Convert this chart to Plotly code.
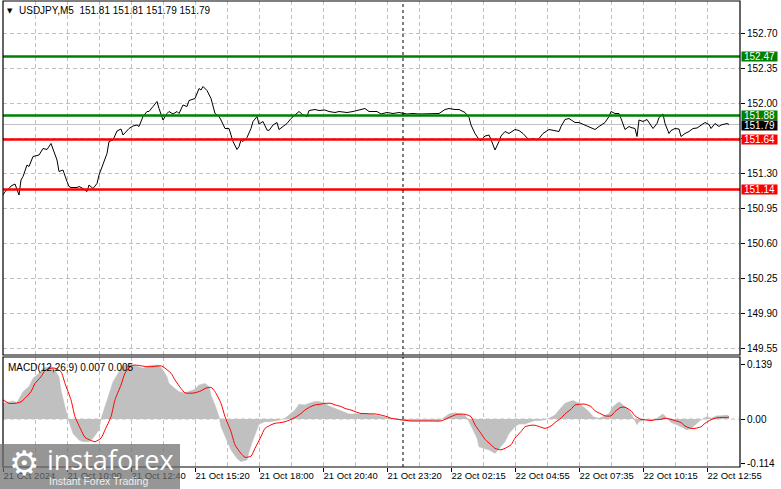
import plotly.graph_objects as go

# ---------------- data (bar index: 5-minute bars, 0 = 21 Oct 07:20) ----------------
price_bar = [0, 1, 3, 4, 6, 8, 9, 10, 12, 13, 15, 18, 20, 22, 24, 25, 27, 28, 30, 32,
             33, 34, 37, 38, 40, 42, 43, 45, 47, 48, 50, 52, 53, 55, 57, 59, 60, 63, 65, 67,
             68, 70, 72, 73, 75, 77, 78, 80, 82, 83, 85, 87, 88, 90, 92, 93, 96, 98, 99, 100,
             102, 104, 106, 108, 109, 111, 113, 114, 115, 117, 118, 119, 120, 122, 124, 125, 127, 128, 130, 132,
             133, 135, 137, 138, 140, 142, 144, 147, 148, 150, 152, 153, 156, 158, 161, 163, 166, 168, 172, 175,
             178, 181, 183, 187, 189, 192, 195, 198, 202, 205, 208, 212, 215, 218, 221, 223, 226, 228, 231, 233,
             234, 236, 238, 239, 241, 243, 244, 246, 248, 249, 251, 253, 256, 258, 260, 262, 263, 265, 267, 268,
             270, 273, 275, 278, 279, 281, 283, 286, 288, 291, 293, 296, 298, 301, 303, 304, 306, 308, 309, 311,
             313, 314, 316, 317, 318, 320, 322, 323, 325, 327, 328, 330, 331, 333, 334, 336, 338, 339, 341, 343,
             345, 347, 348, 351, 353, 354, 356, 358, 359, 362, 363]
price_close = [151.085, 151.12, 151.15, 151.175, 151.195, 151.085, 151.235, 151.27, 151.385, 151.37,
               151.47, 151.485, 151.55, 151.54, 151.60, 151.55, 151.435, 151.32, 151.335, 151.22,
               151.17, 151.16, 151.16, 151.17, 151.15, 151.12, 151.185, 151.15, 151.20, 151.285,
               151.40, 151.50, 151.62, 151.635, 151.725, 151.745, 151.685, 151.75, 151.775, 151.785,
               151.77, 151.87, 151.92, 151.92, 151.97, 152.02, 151.95, 151.835, 151.90, 151.92,
               151.895, 151.92, 151.90, 151.985, 151.97, 152.03, 152.05, 152.15, 152.135, 152.17,
               152.13, 152.05, 151.90, 151.87, 151.835, 151.75, 151.75, 151.685, 151.62, 151.54,
               151.57, 151.635, 151.62, 151.66, 151.75, 151.82, 151.87, 151.795, 151.82, 151.735,
               151.73, 151.785, 151.81, 151.74, 151.77, 151.80, 151.85, 151.91, 151.92, 151.885,
               151.87, 151.93, 151.94, 151.93, 151.935, 151.92, 151.91, 151.92, 151.91, 151.92,
               151.935, 151.95, 151.92, 151.92, 151.895, 151.91, 151.90, 151.91, 151.895, 151.90,
               151.895, 151.895, 151.895, 151.90, 151.94, 151.95, 151.94, 151.94, 151.91, 151.86,
               151.785, 151.70, 151.64, 151.63, 151.675, 151.685, 151.64, 151.535, 151.62, 151.675,
               151.72, 151.70, 151.74, 151.73, 151.70, 151.65, 151.635, 151.65, 151.635, 151.65,
               151.70, 151.74, 151.73, 151.72, 151.77, 151.84, 151.85, 151.81, 151.81, 151.785,
               151.77, 151.74, 151.77, 151.81, 151.87, 151.92, 151.90, 151.90, 151.85, 151.74,
               151.77, 151.76, 151.75, 151.67, 151.835, 151.82, 151.84, 151.81, 151.75, 151.80,
               151.86, 151.895, 151.80, 151.70, 151.73, 151.75, 151.745, 151.67, 151.70, 151.72,
               151.75, 151.755, 151.77, 151.81, 151.79, 151.75, 151.80, 151.77, 151.785, 151.80, 151.79]

hist_bar = [0, 5, 7, 10, 13, 15, 18, 20, 24, 26, 28, 29, 31, 33, 35, 38, 40, 43, 45, 48,
            49, 51, 53, 55, 58, 60, 63, 65, 68, 70, 73, 75, 78, 80, 82, 83, 86, 88, 91, 93,
            96, 98, 101, 103, 104, 106, 108, 109, 112, 114, 117, 119, 122, 123, 125, 127, 128, 131, 133, 136,
            138, 141, 143, 146, 148, 151, 153, 156, 158, 161, 163, 166, 168, 171, 173, 176, 178, 181, 183, 186,
            188, 191, 194, 197, 200, 204, 208, 213, 218, 220, 222, 223, 226, 228, 231, 233, 235, 237, 238, 241,
            243, 246, 248, 251, 253, 256, 258, 261, 263, 266, 268, 271, 273, 276, 278, 281, 283, 285, 288, 290,
            293, 295, 298, 300, 303, 305, 308, 310, 313, 315, 317, 318, 321, 323, 326, 328, 330, 332, 334, 337,
            339, 342, 344, 347, 349, 352, 354, 357, 359, 362, 363]
hist_val = [0.040, 0.046, 0.042, 0.070, 0.083, 0.104, 0.117, 0.130, 0.134, 0.125, 0.108, 0.074, 0.031, -0.007,
            -0.037, -0.054, -0.058, -0.058, -0.049, -0.028, 0.000, 0.031, 0.066, 0.095, 0.121, 0.136, 0.141,
            0.138, 0.134, 0.130, 0.136, 0.138, 0.138, 0.125, 0.108, 0.091, 0.078, 0.070, 0.067, 0.070, 0.076,
            0.087, 0.091, 0.083, 0.061, 0.036, 0.006, -0.020, -0.054, -0.079, -0.101, -0.109, -0.105, -0.084,
            -0.054, -0.028, -0.013, -0.007, -0.007, -0.005, -0.003, 0.002, 0.010, 0.023, 0.038, 0.036, 0.040,
            0.045, 0.045, 0.040, 0.033, 0.027, 0.021, 0.016, 0.013, 0.013, 0.014, 0.014, 0.013, 0.010, 0.008,
            0.006, 0.002, -0.001, -0.004, -0.005, -0.005, -0.005, -0.005, 0.002, 0.008, 0.013, 0.016, 0.014,
            0.010, -0.007, -0.028, -0.049, -0.071, -0.077, -0.079, -0.088, -0.075, -0.058, -0.037, -0.020,
            -0.013, -0.013, -0.009, -0.004, -0.004, -0.002, 0.002, 0.010, 0.023, 0.040, 0.044, 0.047, 0.040,
            0.032, 0.019, 0.006, 0.002, 0.006, 0.014, 0.032, 0.044, 0.036, 0.023, 0.006, -0.015, -0.007,
            -0.002, -0.002, -0.002, 0.006, 0.013, 0.002, -0.009, -0.015, -0.020, -0.028, -0.024, -0.011,
            -0.002, 0.006, 0.002, 0.008, 0.008, 0.010, 0.007]

sig_bar = [0, 3, 6, 9, 11, 14, 16, 19, 21, 24, 26, 29, 31, 34, 36, 39, 41, 44, 46, 49,
           51, 54, 56, 59, 61, 64, 66, 69, 72, 75, 79, 81, 84, 86, 89, 91, 94, 96, 99, 101,
           104, 106, 109, 111, 114, 116, 119, 121, 124, 126, 129, 131, 134, 136, 139, 141, 144, 146, 149, 151,
           154, 156, 159, 161, 164, 166, 169, 171, 174, 176, 179, 181, 184, 186, 189, 192, 194, 199, 204, 209,
           214, 219, 221, 224, 227, 231, 234, 236, 239, 241, 244, 246, 249, 251, 254, 256, 259, 261, 264, 266,
           269, 271, 274, 276, 279, 281, 284, 286, 289, 291, 294, 296, 299, 301, 304, 306, 309, 311, 314, 316,
           319, 321, 324, 326, 329, 331, 334, 336, 339, 341, 344, 346, 349, 351, 354, 356, 359, 362, 363]
sig_val = [0.049, 0.040, 0.040, 0.044, 0.053, 0.070, 0.091, 0.108, 0.124, 0.130, 0.130, 0.121, 0.091, 0.049,
           0.006, -0.028, -0.047, -0.055, -0.058, -0.049, -0.028, 0.006, 0.049, 0.087, 0.117, 0.136, 0.138,
           0.136, 0.134, 0.134, 0.136, 0.130, 0.117, 0.100, 0.078, 0.067, 0.066, 0.067, 0.072, 0.078, 0.081,
           0.070, 0.040, 0.006, -0.032, -0.066, -0.088, -0.098, -0.095, -0.075, -0.045, -0.024, -0.015, -0.011,
           -0.009, -0.007, -0.001, 0.004, 0.014, 0.023, 0.032, 0.036, 0.038, 0.040, 0.040, 0.036, 0.032, 0.027,
           0.023, 0.019, 0.014, 0.014, 0.013, 0.013, 0.010, 0.006, 0.002, -0.002, -0.005, -0.005, -0.005,
           -0.005, -0.001, 0.006, 0.012, 0.012, 0.006, -0.015, -0.037, -0.052, -0.066, -0.075, -0.079, -0.075,
           -0.066, -0.049, -0.032, -0.020, -0.016, -0.016, -0.021, -0.024, -0.018, -0.009, 0.002, 0.013, 0.025,
           0.036, 0.038, 0.038, 0.032, 0.021, 0.013, 0.008, 0.008, 0.019, 0.030, 0.030, 0.021, 0.008, -0.001,
           -0.002, -0.004, -0.002, -0.001, 0.002, -0.001, -0.004, -0.009, -0.018, -0.024, -0.024, -0.020,
           -0.011, -0.002, 0.002, 0.004, 0.004, 0.005]

time_tick_bars = [0, 32, 64, 96, 128, 160, 192, 224, 256, 288, 320, 352]
time_tick_labels = ["21 Oct 2024", "21 Oct 10:00", "21 Oct 12:40", "21 Oct 15:20", "21 Oct 18:00",
                    "21 Oct 20:40", "21 Oct 23:20", "22 Oct 02:15", "22 Oct 04:55", "22 Oct 07:35",
                    "22 Oct 10:15", "22 Oct 12:55"]
price_ticks = [152.70, 152.35, 152.00, 151.65, 151.30, 150.95, 150.60, 150.25, 149.90, 149.55]
# 151.65 is hidden behind the 151.64 level label in the reference
price_tick_labels = ["152.70", "152.35", "152.00", "", "151.30", "150.95", "150.60", "150.25",
                     "149.90", "149.55"]
macd_ticks = [0.139, 0.0, -0.114]
macd_tick_labels = ["0.139", "0.00", "-0.114"]

level_values = [152.47, 151.88, 151.64, 151.14]
level_colors = ["#008000", "#008000", "#ff0000", "#ff0000"]
last_price = 151.79
day_separator_bar = 200
ohlc_text = "151.81 151.81 151.79 151.79"
macd_text = "MACD(12,26,9) 0.007 0.005"

# ---------------- figure ----------------
W, H = 781, 489
ML, MR, MT, MB = 3, 41, 1, 22
PW, PH = W - ML - MR, H - MT - MB
FONT = "Liberation Sans"
GRID = "#c0c0c0"

fig = go.Figure()

fig.add_trace(go.Scatter(x=price_bar, y=price_close, mode="lines",
                         line=dict(color="black", width=1), xaxis="x", yaxis="y",
                         showlegend=False, hoverinfo="skip"))
fig.add_trace(go.Scatter(x=hist_bar, y=hist_val, mode="lines", fill="tozeroy",
                         fillcolor="#c0c0c0", line=dict(color="#c0c0c0", width=0.5),
                         xaxis="x2", yaxis="y2", showlegend=False, hoverinfo="skip"))
fig.add_trace(go.Scatter(x=sig_bar, y=sig_val, mode="lines",
                         line=dict(color="#ff0000", width=1, shape="spline", smoothing=0.6),
                         xaxis="x2", yaxis="y2", showlegend=False, hoverinfo="skip"))

main_bottom_px, macd_top_px = 355, 357
dom_main = [(H - MB - main_bottom_px) / PH, 1]
dom_macd = [0, (H - MB - macd_top_px) / PH]

xr = [0, PW / 2]
fig.update_layout(
    width=W, height=H, paper_bgcolor="white", plot_bgcolor="white",
    margin=dict(l=ML, r=MR, t=MT, b=MB, autoexpand=False),
    font=dict(family=FONT, size=9, color="black"),
    xaxis=dict(domain=[0, 1], range=xr, anchor="y", showticklabels=False, ticks="",
               tickmode="linear", tick0=0, dtick=16, showgrid=True, gridcolor=GRID,
               griddash="4px,3px", gridwidth=1, zeroline=False, showline=False),
    xaxis2=dict(domain=[0, 1], range=xr, anchor="y2", matches="x",
                tickmode="array", tickvals=time_tick_bars, ticktext=time_tick_labels,
                ticklabelposition="outside right", ticks="outside", ticklen=4, tickcolor="black",
                tickangle=0, showgrid=True, gridcolor=GRID, griddash="4px,3px", zeroline=False,
                showline=False, tickfont=dict(family=FONT, size=9.5, color="black"),
                minor=dict(tickmode="linear", tick0=0, dtick=16, showgrid=True, gridcolor=GRID,
                           griddash="4px,3px", ticks="")),
    yaxis=dict(domain=dom_main, range=[152.70 - 321.5 / 100, 152.70 + 32.5 / 100],
               side="right", anchor="x", tickmode="array", tickvals=price_ticks,
               ticktext=price_tick_labels, ticks="outside", ticklen=4,
               tickcolor="black", showgrid=True, gridcolor=GRID, griddash="4px,3px",
               zeroline=False, showline=False, tickfont=dict(family=FONT, size=10)),
    yaxis2=dict(domain=dom_macd, range=[-0.1228, 0.1586], side="right", anchor="x2",
                tickmode="array", tickvals=macd_ticks, ticktext=macd_tick_labels,
                ticks="outside", ticklen=4, tickcolor="black", showgrid=False,
                zeroline=False, showline=False, tickfont=dict(family=FONT, size=10)),
)

shapes = []
# zero line in MACD
shapes.append(dict(type="line", xref="x2 domain", yref="y2", x0=0, x1=1, y0=0, y1=0,
                   line=dict(color=GRID, width=1, dash="4px,3px"), layer="below"))
# current price line
shapes.append(dict(type="line", xref="x domain", yref="y", x0=0, x1=1, y0=last_price, y1=last_price,
                   line=dict(color="#c0c0c0", width=1), layer="below"))
# level lines
for v, c in zip(level_values, level_colors):
    shapes.append(dict(type="line", xref="x domain", yref="y", x0=0, x1=1, y0=v, y1=v,
                       line=dict(color=c, width=2.5)))
# day separator
for yref in ["y domain", "y2 domain"]:
    shapes.append(dict(type="line", xref="x", yref=yref, x0=day_separator_bar, x1=day_separator_bar,
                       y0=0, y1=1, line=dict(color="black", width=1, dash="3px,3px")))
# panel frames
for xref, yref in [("x domain", "y domain"), ("x2 domain", "y2 domain")]:
    shapes.append(dict(type="rect", xref=xref, yref=yref, x0=0, x1=1, y0=0, y1=1,
                       line=dict(color="black", width=1.2), fillcolor="rgba(0,0,0,0)"))


def px_x(p):
    return (p - ML) / PW


def px_y(p):
    return 1 - (p - MT) / PH


# watermark box
shapes.append(dict(type="rect", xref="paper", yref="paper", x0=px_x(0), x1=px_x(180),
                   y0=px_y(490), y1=px_y(444), fillcolor="rgba(110,110,110,0.72)",
                   line=dict(width=0), layer="above"))
fig.update_layout(shapes=shapes)

ann = []
# price labels on the right
for v, c in zip(level_values, level_colors):
    ann.append(dict(xref="paper", yref="y", x=1, y=v, xanchor="left", yanchor="middle",
                    xshift=1, text=f"{v:.2f}", showarrow=False, bgcolor=c, width=35, height=9,
                    font=dict(family=FONT, size=10, color="white"), borderpad=0))
ann.append(dict(xref="paper", yref="y", x=1, y=last_price, xanchor="left", yanchor="middle",
                xshift=1, yshift=-1, text=f"{last_price:.2f}", showarrow=False, bgcolor="black",
                width=35, height=9, font=dict(family=FONT, size=10, color="white"), borderpad=0))
# title
ann.append(dict(xref="paper", yref="paper", x=px_x(5), y=px_y(11), xanchor="left", yanchor="middle",
                text="▼", showarrow=False, font=dict(family="DejaVu Sans", size=7, color="black")))
ann.append(dict(xref="paper", yref="paper", x=px_x(17), y=px_y(11), xanchor="left", yanchor="middle",
                text="USDJPY,M5\u00a0\u00a0" + ohlc_text, showarrow=False,
                font=dict(family=FONT, size=10, color="black")))
ann.append(dict(xref="paper", yref="paper", x=px_x(6), y=px_y(367), xanchor="left", yanchor="middle",
                text=macd_text, showarrow=False, font=dict(family=FONT, size=10, color="black")))
# watermark texts
ann.append(dict(xref="paper", yref="paper", x=px_x(24), y=px_y(463), xanchor="center", yanchor="middle",
                text="⚙", showarrow=False, font=dict(family="DejaVu Sans", size=34, color="white")))
ann.append(dict(xref="paper", yref="paper", x=px_x(45), y=px_y(459), xanchor="left", yanchor="middle",
                text="instaforex", showarrow=False, font=dict(family="Open Sans", size=27, color="white")))
ann.append(dict(xref="paper", yref="paper", x=px_x(47), y=px_y(481), xanchor="left", yanchor="middle",
                text="Instant Forex Trading", showarrow=False,
                font=dict(family=FONT, size=10.5, color="#eeeeee")))
fig.update_layout(annotations=ann)

fig.write_html("out.html", config={"displayModeBar": False},
               post_script="document.body.style.margin='0';document.body.style.padding='0';")
